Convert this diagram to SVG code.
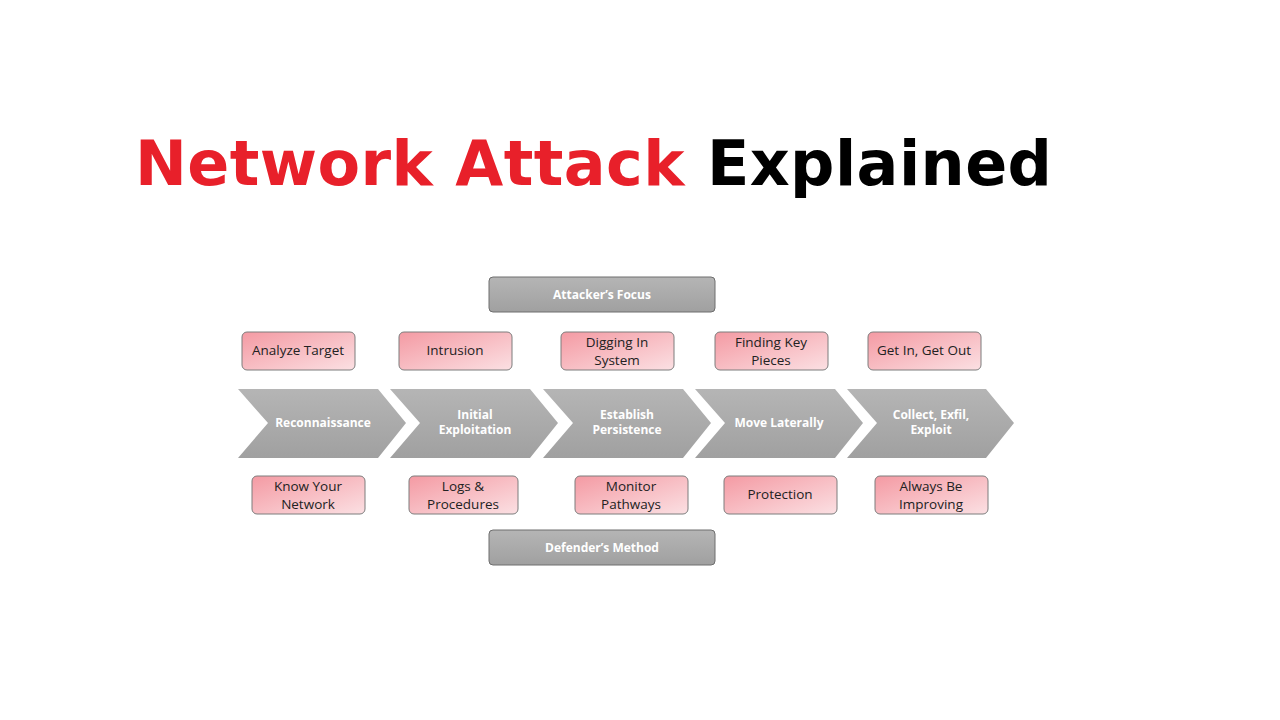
<svg xmlns="http://www.w3.org/2000/svg" width="1280" height="720" viewBox="0 0 1280 720">
<defs>
<linearGradient id="pk" x1="0" y1="0" x2="1" y2="1"><stop offset="0" stop-color="#f49aa3"/><stop offset="1" stop-color="#fbe0e3"/></linearGradient>
<linearGradient id="gr" x1="0" y1="0" x2="0" y2="1"><stop offset="0" stop-color="#b5b5b5"/><stop offset="1" stop-color="#a0a0a0"/></linearGradient>
<style>
.pk{fill:url(#pk);stroke:#7d7d7d;stroke-width:1}
.gb{fill:url(#gr);stroke:#6e6e6e;stroke-width:1}
.ch{fill:url(#gr)}
.t{font-family:"Open Sans","Liberation Sans",sans-serif;font-size:13.5px;fill:#222;text-anchor:middle}
.w{font-family:"Open Sans","Liberation Sans",sans-serif;font-size:12px;font-weight:bold;fill:#fff;text-anchor:middle}
</style>
</defs>
<rect width="1280" height="720" fill="#fff"/>
<text x="135" y="185" font-family="'DejaVu Sans','Liberation Sans',sans-serif" font-weight="bold" font-size="62" fill="#e8202a" textLength="917" lengthAdjust="spacing">Network Attack <tspan fill="#000">Explained</tspan></text>
<g id="attackers-focus"><rect class="gb" x="489" y="277" width="226" height="35" rx="4"/><text class="w" x="602" y="299">Attacker’s Focus</text></g>
<g id="defenders-method"><rect class="gb" x="489" y="530" width="226" height="35" rx="4"/><text class="w" x="602" y="552">Defender’s Method</text></g>
<g id="chevrons">
<g id="c1"><polygon class="ch" points="238,389 378,389 406,423 378,458 238,458 268,423"/><text class="w" x="323" y="427">Reconnaissance</text></g>
<g id="c2"><polygon class="ch" points="390,389 530,389 558,423 530,458 390,458 420,423"/><text class="w" x="475" y="419">Initial</text><text class="w" x="475" y="434">Exploitation</text></g>
<g id="c3"><polygon class="ch" points="543,389 683,389 711,423 683,458 543,458 573,423"/><text class="w" x="627" y="419">Establish</text><text class="w" x="627" y="434">Persistence</text></g>
<g id="c4"><polygon class="ch" points="695,389 835,389 863,423 835,458 695,458 725,423"/><text class="w" x="779" y="427">Move Laterally</text></g>
<g id="c5"><polygon class="ch" points="847,389 986,389 1014,423 986,458 847,458 877,423"/><text class="w" x="931" y="419">Collect, Exfil,</text><text class="w" x="931" y="434">Exploit</text></g>
</g>
<g id="a1"><rect class="pk" x="242" y="332" width="113" height="38" rx="5"/><text class="t" x="298" y="355">Analyze Target</text></g>
<g id="a2"><rect class="pk" x="399" y="332" width="113" height="38" rx="5"/><text class="t" x="455" y="355">Intrusion</text></g>
<g id="a3"><rect class="pk" x="561" y="332" width="113" height="38" rx="5"/><text class="t" x="617" y="347">Digging In</text><text class="t" x="617" y="365">System</text></g>
<g id="a4"><rect class="pk" x="715" y="332" width="113" height="38" rx="5"/><text class="t" x="771" y="347">Finding Key</text><text class="t" x="771" y="365">Pieces</text></g>
<g id="a5"><rect class="pk" x="868" y="332" width="113" height="38" rx="5"/><text class="t" x="924" y="355">Get In, Get Out</text></g>
<g id="d1"><rect class="pk" x="252" y="476" width="113" height="38" rx="5"/><text class="t" x="308" y="491">Know Your</text><text class="t" x="308" y="509">Network</text></g>
<g id="d2"><rect class="pk" x="409" y="476" width="109" height="38" rx="5"/><text class="t" x="463" y="491">Logs &amp;</text><text class="t" x="463" y="509">Procedures</text></g>
<g id="d3"><rect class="pk" x="575" y="476" width="113" height="38" rx="5"/><text class="t" x="631" y="491">Monitor</text><text class="t" x="631" y="509">Pathways</text></g>
<g id="d4"><rect class="pk" x="724" y="476" width="113" height="38" rx="5"/><text class="t" x="780" y="499">Protection</text></g>
<g id="d5"><rect class="pk" x="875" y="476" width="113" height="38" rx="5"/><text class="t" x="931" y="491">Always Be</text><text class="t" x="931" y="509">Improving</text></g>
<g id="connectors"/>
</svg>
